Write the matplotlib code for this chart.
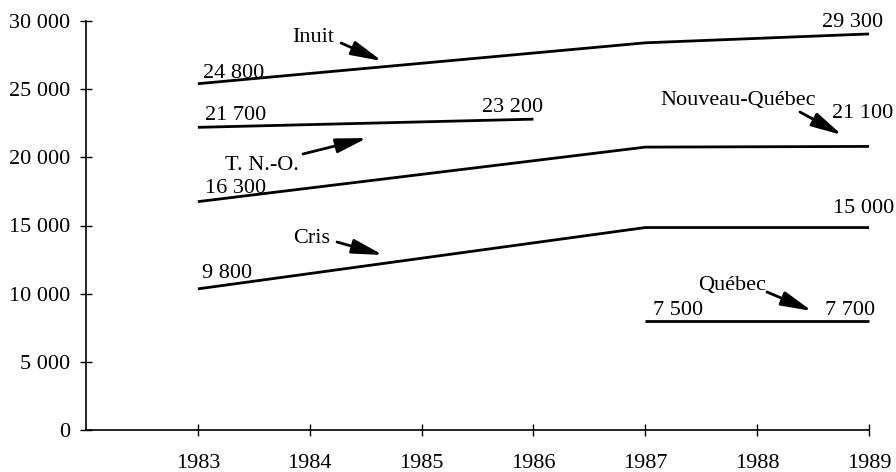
import matplotlib
matplotlib.use("Agg")
import matplotlib.pyplot as plt

plt.rcParams['font.family'] = ['Liberation Serif', 'DejaVu Serif']

# ---- data ----
years_inuit = [1983, 1987, 1989]
inuit = [25400, 28400, 29050]
years_tno = [1983, 1986]
tno = [22200, 22800]
years_nq = [1983, 1987, 1989]
nouveau_quebec = [16750, 20750, 20800]
years_cris = [1983, 1987, 1989]
cris = [10350, 14850, 14850]
years_quebec = [1987, 1989]
quebec = [8000, 8000]

x_ticks = [1983, 1984, 1985, 1986, 1987, 1988, 1989]
y_ticks = [0, 5000, 10000, 15000, 20000, 25000, 30000]
y_tick_labels = ["0", "5 000", "10 000", "15 000", "20 000", "25 000", "30 000"]

# value labels: (text, x, y, ha)
value_labels = [
    ("24 800", 1983.046, 25800, 'left'),
    ("21 700", 1983.064, 22740, 'left'),
    ("23 200", 1985.540, 23330, 'left'),
    ("16 300", 1983.064, 17380, 'left'),
    ("9 800", 1983.037, 11150, 'left'),
    ("29 300", 1989.125, 29560, 'right'),
    ("21 100", 1988.669, 22885, 'left'),
    ("15 000", 1988.678, 15920, 'left'),
    ("7 500", 1987.069, 8435, 'left'),
    ("7 700", 1988.607, 8435, 'left'),
]

# series names with arrows: (text, text_x, text_y, tail(x,y), head(x,y))
series_labels = [
    ("Inuit", 1983.842, 28460, (1984.280, 28386), (1984.646, 27066)),
    ("T. N.-O.", 1983.243, 19071, (1983.940, 20245), (1984.512, 21418)),
    ("Nouveau-Québec", 1987.132, 23839, (1988.383, 23325), (1988.759, 21638)),
    ("Cris", 1983.851, 13716, (1984.244, 13790), (1984.655, 12836)),
    ("Québec", 1987.471, 10269, (1988.088, 10122), (1988.490, 8729)),
]

fig = plt.figure(figsize=(8.96, 4.72), dpi=100)
ax = fig.add_axes([86 / 896, 1 - 430 / 472, (869 - 86) / 896, (430 - 21) / 472])

lw = 2.0
for xs, ys in [(years_inuit, inuit), (years_tno, tno), (years_nq, nouveau_quebec),
               (years_cris, cris), (years_quebec, quebec)]:
    ax.plot(xs, ys, color='black', lw=lw, solid_capstyle='butt', clip_on=False)

ax.set_xlim(1982, 1989)
ax.set_ylim(0, 30000)
ax.set_xticks(x_ticks)
ax.set_xticklabels([str(x) for x in x_ticks])
ax.set_yticks(y_ticks)
ax.set_yticklabels(y_tick_labels)

for s in ['top', 'right']:
    ax.spines[s].set_visible(False)
for s in ['left', 'bottom']:
    ax.spines[s].set_linewidth(1.2)
    ax.spines[s].set_color('black')

fs = 16
ax.tick_params(axis='both', direction='inout', length=8.6, width=1.0,
               labelsize=fs, colors='black')
ax.tick_params(axis='x', pad=13)
ax.tick_params(axis='y', pad=7)

for txt, x, y, ha in value_labels:
    ax.text(x, y, txt, ha=ha, va='baseline', fontsize=fs, color='black')

for txt, tx, ty, tail, head in series_labels:
    ax.text(tx, ty, txt, ha='left', va='baseline', fontsize=fs, color='black')
    ax.annotate('', xy=head, xytext=tail,
                arrowprops=dict(arrowstyle='-|>,head_length=0.85,head_width=0.2',
                                mutation_scale=22, lw=2.0, color='black',
                                shrinkA=0, shrinkB=0))

fig.savefig('out.png', dpi=100)
